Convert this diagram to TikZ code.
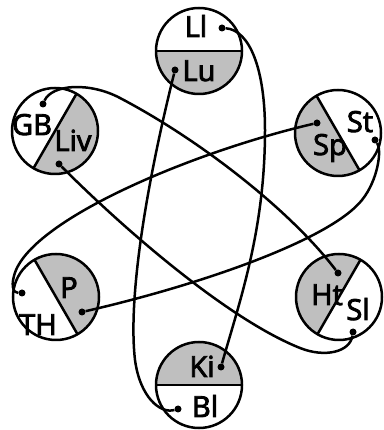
\documentclass[tikz,border=0pt]{standalone}
\usepackage{fontspec}
\newfontfamily\tagfont{Open Sans}[FakeBold=3]
\usetikzlibrary{positioning}
\tikzset{
	disc/.style = {circle, draw, line width=2.5pt, minimum size=86pt, inner sep=0pt},
	pin/.style = {circle, fill, inner sep=0pt, minimum size=7pt},
	tag/.style = {anchor=base, inner sep=0pt, font=\tagfont\fontsize{29}{29}\selectfont},
	link/.style = {line width=2.5pt},
}
\newcommand{\discr}{43}
% disc split in two, the half facing #3 shaded
\NewDocumentCommand{\splitdisc}{m m m}{%
	\fill[black!25] (#2) ++(#3-90:\discr) arc[start angle=#3-90, end angle=#3+90, radius=\discr] -- cycle;
	\node[disc] (#1) at (#2) {};
	\draw[link] (#2) ++(#3-90:\discr) -- ++(#3+90:2*\discr);
}

\begin{document}
\begin{tikzpicture}[x=1pt,y=1pt]
\fill[white] (0,0) rectangle (380,430);
\splitdisc{lllu}{199,379}{-90}
\splitdisc{gbliv}{55,299}{-30}
\splitdisc{stsp}{338,297}{210}
\splitdisc{thp}{56,133}{30}
\splitdisc{htsl}{339,133}{150}
\splitdisc{kibl}{199,45}{90}

\node[tag] (ll-tag) at (196,393) {Ll};
\node[tag] (lu-tag) at (199,349) {Lu};
\node[tag] (gb-tag) at (32,295) {GB};
\node[tag] (liv-tag) at (73,279) {Liv};
\node[tag] (st-tag) at (360,298) {St};
\node[tag] (sp-tag) at (330,275) {Sp};
\node[tag] (th-tag) at (38,95) {TH};
\node[tag] (p-tag) at (69,132) {P};
\node[tag] (ht-tag) at (327,125) {Ht};
\node[tag] (sl-tag) at (358,110) {Sl};
\node[tag] (ki-tag) at (202,53) {Ki};
\node[tag] (bl-tag) at (205,13) {Bl};

\node[pin] (ll) at (222,402) {};
\node[pin] (lu) at (175,360) {};
\node[pin] (gb) at (43,326) {};
\node[pin] (liv) at (59,266) {};
\node[pin] (st) at (375,290) {};
\node[pin] (sp) at (317,307) {};
\node[pin] (th) at (22,137) {};
\node[pin] (p) at (82,118) {};
\node[pin] (ht) at (338,157) {};
\node[pin] (sl) at (353,98) {};
\node[pin] (ki) at (221,63) {};
\node[pin] (bl) at (178,21) {};

% links between opposite discs
\draw[link] (ll) .. controls (250,400) and (265,360) .. (265,300) .. controls (265,200) and (240,130) .. (ki);
\draw[link] (lu) .. controls (145,240) and (128,130) .. (135,70) .. controls (140,33) and (160,16) .. (bl);
\draw[link] (gb) .. controls (52,346) and (90,348) .. (120,332) .. controls (200,290) and (290,220) .. (ht);
\draw[link] (liv) .. controls (130,195) and (230,110) .. (300,82) .. controls (325,72) and (350,78) .. (sl);
\draw[link] (sp) .. controls (200,280) and (40,215) .. (16,160) .. controls (10,145) and (13,137) .. (th);
\draw[link] (p) .. controls (200,145) and (330,190) .. (362,230) .. controls (378,250) and (382,280) .. (st);
\end{tikzpicture}
\end{document}
